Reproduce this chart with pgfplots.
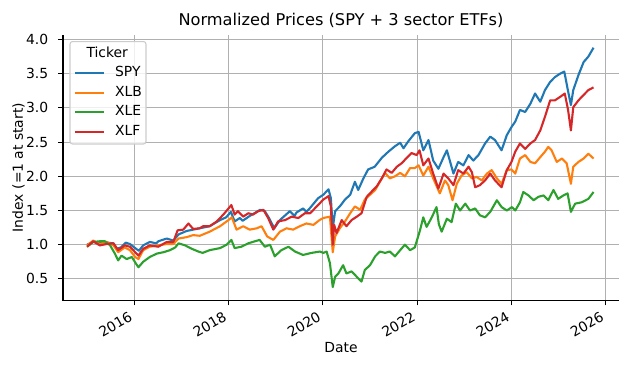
\documentclass[border=0pt]{standalone}
\usepackage{fontspec}
\setmainfont{DejaVu Sans}
\usepackage{pgfplots}
\pgfplotsset{compat=1.18}
\definecolor{tabblue}{HTML}{1F77B4}
\definecolor{taborange}{HTML}{FF7F0E}
\definecolor{tabgreen}{HTML}{2CA02C}
\definecolor{tabred}{HTML}{D62728}
\definecolor{gridgray}{HTML}{B0B0B0}
\newcommand{\fs}{\fontsize{13.9}{16.7}\selectfont}

% normalized prices
\pgfplotstableread{
x y
2015.00 1.00
2015.13 1.04
2015.27 1.02
2015.42 1.03
2015.56 1.02
2015.63 0.94
2015.72 0.96
2015.82 1.03
2015.91 1.01
2016.02 0.95
2016.10 0.91
2016.19 0.99
2016.33 1.04
2016.47 1.02
2016.51 1.05
2016.69 1.09
2016.83 1.06
2016.94 1.15
2017.11 1.20
2017.25 1.22
2017.39 1.24
2017.60 1.27
2017.82 1.36
2017.95 1.40
2018.05 1.48
2018.13 1.34
2018.24 1.39
2018.30 1.35
2018.45 1.42
2018.67 1.51
2018.77 1.49
2018.85 1.40
2018.97 1.24
2019.09 1.36
2019.30 1.49
2019.40 1.42
2019.44 1.47
2019.58 1.53
2019.65 1.48
2019.72 1.53
2019.90 1.68
2020.01 1.73
2020.12 1.81
2020.17 1.68
2020.21 1.24
2020.26 1.49
2020.36 1.56
2020.47 1.66
2020.58 1.73
2020.68 1.92
2020.75 1.80
2020.86 1.97
2020.96 2.10
2021.10 2.14
2021.25 2.27
2021.39 2.36
2021.53 2.44
2021.64 2.49
2021.71 2.41
2021.81 2.51
2021.95 2.63
2022.03 2.65
2022.13 2.38
2022.24 2.53
2022.34 2.23
2022.45 2.11
2022.56 2.28
2022.63 2.38
2022.77 2.04
2022.87 2.21
2022.98 2.16
2023.09 2.31
2023.19 2.23
2023.30 2.31
2023.44 2.48
2023.55 2.58
2023.65 2.53
2023.79 2.38
2023.90 2.60
2024.00 2.72
2024.08 2.80
2024.18 2.97
2024.29 2.94
2024.40 3.06
2024.50 3.21
2024.61 3.09
2024.71 3.26
2024.82 3.38
2024.92 3.45
2025.03 3.50
2025.12 3.53
2025.19 3.28
2025.26 3.04
2025.31 3.26
2025.42 3.48
2025.53 3.67
2025.63 3.75
2025.74 3.88
}\spy

\pgfplotstableread{
x y
2015.00 0.99
2015.13 1.06
2015.27 1.01
2015.42 1.04
2015.56 0.99
2015.66 0.89
2015.80 0.96
2015.91 0.92
2016.02 0.82
2016.09 0.79
2016.19 0.92
2016.33 0.97
2016.51 0.99
2016.69 1.01
2016.83 1.01
2016.94 1.09
2017.11 1.11
2017.25 1.14
2017.39 1.13
2017.60 1.19
2017.82 1.27
2018.00 1.36
2018.07 1.40
2018.17 1.22
2018.31 1.27
2018.45 1.22
2018.60 1.24
2018.70 1.27
2018.82 1.12
2018.95 1.07
2019.09 1.19
2019.23 1.24
2019.37 1.22
2019.51 1.27
2019.65 1.31
2019.80 1.29
2019.93 1.36
2020.01 1.39
2020.15 1.41
2020.21 0.89
2020.26 1.12
2020.36 1.24
2020.47 1.34
2020.58 1.46
2020.68 1.56
2020.79 1.51
2020.89 1.66
2021.00 1.73
2021.11 1.80
2021.21 1.92
2021.32 2.05
2021.42 1.97
2021.53 2.00
2021.64 2.05
2021.74 2.00
2021.85 2.12
2021.95 2.12
2022.03 2.16
2022.13 2.01
2022.24 2.14
2022.34 1.97
2022.48 1.75
2022.59 1.94
2022.66 1.87
2022.75 1.65
2022.84 1.89
2022.94 2.01
2023.05 2.06
2023.16 1.97
2023.26 1.99
2023.37 1.94
2023.48 2.04
2023.58 2.09
2023.69 1.97
2023.79 1.89
2023.90 2.09
2024.00 2.10
2024.08 2.04
2024.18 2.26
2024.29 2.31
2024.40 2.21
2024.50 2.19
2024.61 2.28
2024.71 2.36
2024.78 2.43
2024.85 2.38
2024.96 2.21
2025.07 2.26
2025.17 2.19
2025.26 1.89
2025.31 2.14
2025.42 2.21
2025.53 2.26
2025.63 2.33
2025.74 2.26
}\xlb

\pgfplotstableread{
x y
2015.00 0.97
2015.13 1.04
2015.27 1.05
2015.38 1.05
2015.49 0.99
2015.59 0.87
2015.66 0.77
2015.73 0.84
2015.84 0.79
2015.95 0.82
2016.04 0.72
2016.09 0.67
2016.19 0.75
2016.33 0.82
2016.48 0.87
2016.62 0.89
2016.76 0.92
2016.87 0.96
2016.94 1.02
2017.08 0.99
2017.22 0.94
2017.36 0.90
2017.45 0.88
2017.60 0.92
2017.82 0.95
2017.96 1.00
2018.06 1.07
2018.13 0.95
2018.27 0.97
2018.42 1.02
2018.56 1.05
2018.66 1.07
2018.77 0.97
2018.88 1.00
2018.98 0.83
2019.12 0.92
2019.27 0.97
2019.41 0.90
2019.58 0.85
2019.76 0.88
2019.94 0.90
2020.01 0.88
2020.08 0.90
2020.15 0.73
2020.21 0.38
2020.26 0.53
2020.33 0.58
2020.43 0.70
2020.50 0.58
2020.61 0.61
2020.72 0.53
2020.82 0.46
2020.89 0.63
2021.00 0.70
2021.11 0.83
2021.21 0.90
2021.32 0.88
2021.42 0.90
2021.53 0.83
2021.64 0.92
2021.74 1.00
2021.85 0.92
2021.95 0.96
2022.06 1.21
2022.13 1.40
2022.20 1.26
2022.31 1.40
2022.41 1.55
2022.46 1.30
2022.52 1.19
2022.63 1.38
2022.73 1.33
2022.82 1.60
2022.91 1.50
2023.02 1.60
2023.12 1.50
2023.23 1.53
2023.33 1.43
2023.44 1.40
2023.55 1.48
2023.69 1.65
2023.79 1.55
2023.90 1.50
2024.01 1.55
2024.08 1.50
2024.18 1.62
2024.25 1.77
2024.36 1.72
2024.47 1.65
2024.57 1.70
2024.68 1.72
2024.78 1.65
2024.89 1.80
2024.99 1.67
2025.10 1.72
2025.19 1.75
2025.26 1.48
2025.35 1.60
2025.49 1.62
2025.63 1.67
2025.74 1.77
}\xle

\pgfplotstableread{
x y
2015.00 0.97
2015.13 1.05
2015.27 0.99
2015.42 1.01
2015.56 1.02
2015.66 0.92
2015.80 0.99
2015.91 0.97
2016.02 0.89
2016.09 0.84
2016.19 0.94
2016.33 0.99
2016.51 0.97
2016.69 1.04
2016.83 1.04
2016.92 1.21
2017.04 1.22
2017.15 1.31
2017.25 1.23
2017.39 1.24
2017.46 1.27
2017.60 1.27
2017.75 1.34
2017.89 1.44
2018.00 1.53
2018.06 1.58
2018.13 1.44
2018.20 1.49
2018.31 1.41
2018.42 1.46
2018.52 1.44
2018.63 1.49
2018.74 1.51
2018.84 1.39
2018.95 1.22
2019.05 1.34
2019.20 1.36
2019.34 1.41
2019.48 1.39
2019.62 1.46
2019.73 1.46
2019.90 1.58
2020.01 1.66
2020.12 1.71
2020.17 1.56
2020.21 1.00
2020.24 1.29
2020.29 1.17
2020.40 1.36
2020.50 1.27
2020.61 1.36
2020.72 1.41
2020.82 1.46
2020.93 1.70
2021.04 1.78
2021.14 1.85
2021.25 1.97
2021.35 2.10
2021.46 2.05
2021.57 2.14
2021.67 2.19
2021.78 2.27
2021.88 2.34
2021.99 2.31
2022.05 2.38
2022.13 2.16
2022.24 2.26
2022.34 2.04
2022.45 1.82
2022.56 2.04
2022.66 1.97
2022.77 1.87
2022.87 2.09
2022.98 2.04
2023.09 2.14
2023.16 2.06
2023.23 1.84
2023.33 1.87
2023.44 1.94
2023.55 2.04
2023.65 1.94
2023.79 1.84
2023.90 2.09
2024.00 2.21
2024.08 2.36
2024.18 2.48
2024.29 2.40
2024.40 2.48
2024.50 2.53
2024.61 2.67
2024.71 2.87
2024.82 3.11
2024.92 3.11
2025.03 3.16
2025.13 3.21
2025.20 2.97
2025.26 2.67
2025.31 3.01
2025.42 3.11
2025.53 3.19
2025.63 3.26
2025.74 3.30
}\xlf

\begin{document}
\begin{tikzpicture}
\useasboundingbox (-63pt,-69.5pt) rectangle (571pt,300.5pt);
\begin{axis}[
    at={(0pt,0pt)}, anchor=south west,
    scale only axis, width=556pt, height=266pt,
    xmin=2014.49, xmax=2026.28, ymin=0.184, ymax=4.073,
    axis x line*=bottom, axis y line*=left,
    axis line style={line width=1.1pt, -},
    tick align=outside, major tick length=4.9pt,
    tick style={line width=1.1pt, black},
    xtick={2016,2018,2020,2022,2024,2026},
    xticklabels={2016,2018,2020,2022,2024,2026},
    ytick={0.5,1.0,1.5,2.0,2.5,3.0,3.5,4.0},
    yticklabels={0.5,1.0,1.5,2.0,2.5,3.0,3.5,4.0},
    grid=major, grid style={line width=1.1pt, gridgray},
    xticklabel style={font=\fs, rotate=30, anchor=north east, inner sep=0pt, xshift=-8pt, yshift=-1.7pt},
    yticklabel style={font=\fs, anchor=east, inner sep=0pt, xshift=-9.7pt},
    title={Normalized Prices (SPY + 3 sector ETFs)},
    title style={font=\fontsize{16.2}{19.5}\selectfont, at={(axis description cs:0.5,1)}, anchor=base, yshift=3.3pt, inner sep=0pt},
    xlabel={Date},
    xlabel style={font=\fs, at={(axis description cs:0.5,0)}, anchor=north, yshift=-41.7pt, inner sep=0pt},
    ylabel={Index (=1 at start)},
    ylabel style={font=\fs, at={(axis description cs:-0.0683,0.5)}, anchor=south, inner sep=0pt},
    legend cell align=left,
    legend image code/.code={\draw[#1, line width=2.1pt] (0pt,0pt) -- (29pt,0pt);},
    legend style={at={(axis description cs:0,1)}, anchor=north west, xshift=6.5pt, yshift=-6.5pt,
        font=\fs, draw=black!20, line width=1.1pt, fill=white, fill opacity=0.8, text opacity=1,
        rounded corners=2.5pt, inner xsep=4pt, inner ysep=5pt, row sep=5.6pt,
        /tikz/every odd column/.append style={column sep=10pt},
        nodes={inner sep=0pt, text height=10.5pt, text depth=3.5pt}},
]
\addlegendimage{empty legend}
\addlegendentry{\hspace{-28.6pt}Ticker}
\addplot[tabblue, line width=2.1pt, line join=round] table {\spy};
\addlegendentry{SPY}
\addplot[taborange, line width=2.1pt, line join=round] table {\xlb};
\addlegendentry{XLB}
\addplot[tabgreen, line width=2.1pt, line join=round] table {\xle};
\addlegendentry{XLE}
\addplot[tabred, line width=2.1pt, line join=round] table {\xlf};
\addlegendentry{XLF}
\end{axis}
\end{tikzpicture}
\end{document}
